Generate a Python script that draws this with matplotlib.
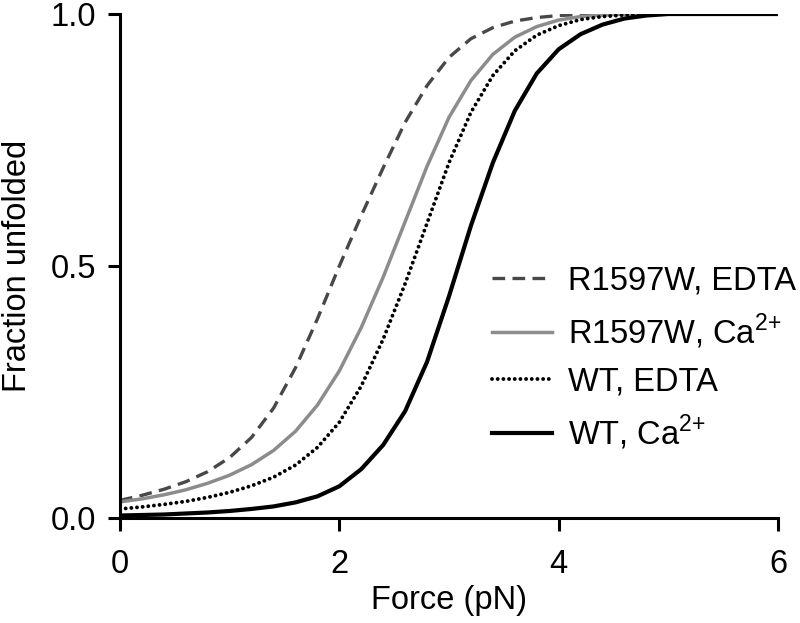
import matplotlib
matplotlib.use("Agg")
from matplotlib import pyplot as plt

plt.rcParams['font.family'] = ['Liberation Sans', 'DejaVu Sans']
plt.rcParams['mathtext.fontset'] = 'custom'
plt.rcParams['mathtext.rm'] = 'Liberation Sans'

# force grid (pN)
force = [0.0, 0.2, 0.4, 0.6, 0.8, 1.0, 1.2, 1.4, 1.6, 1.8, 2.0, 2.2, 2.4, 2.6, 2.8, 3.0,
         3.2, 3.4, 3.6, 3.8, 4.0, 4.2, 4.4, 4.6, 4.8, 5.0, 5.2, 5.4, 5.6, 5.8, 6.0]

# fraction unfolded
r1597w_edta = [0.035, 0.045, 0.057, 0.072, 0.092, 0.12, 0.16, 0.218, 0.298, 0.395, 0.50,
               0.60, 0.695, 0.785, 0.858, 0.914, 0.951, 0.973, 0.986, 0.993, 0.997, 0.999,
               1.0, 1.0, 1.0, 1.0, 1.0, 1.0, 1.0, 1.0, 1.0]
r1597w_ca = [0.032, 0.038, 0.046, 0.056, 0.069, 0.085, 0.106, 0.134, 0.172, 0.224, 0.292,
             0.378, 0.478, 0.588, 0.698, 0.795, 0.868, 0.92, 0.954, 0.975, 0.988, 0.995,
             0.998, 1.0, 1.0, 1.0, 1.0, 1.0, 1.0, 1.0, 1.0]
wt_edta = [0.018, 0.022, 0.027, 0.033, 0.041, 0.051, 0.064, 0.081, 0.105, 0.14, 0.19,
           0.262, 0.355, 0.465, 0.585, 0.705, 0.805, 0.878, 0.927, 0.958, 0.977, 0.989,
           0.995, 0.998, 1.0, 1.0, 1.0, 1.0, 1.0, 1.0, 1.0]
wt_ca = [0.005, 0.006, 0.007, 0.009, 0.011, 0.014, 0.018, 0.023, 0.031, 0.043, 0.063,
         0.097, 0.145, 0.212, 0.31, 0.44, 0.58, 0.705, 0.808, 0.882, 0.93, 0.96,
         0.979, 0.991, 0.997, 1.0, 1.0, 1.0, 1.0, 1.0, 1.0]

fig = plt.figure(figsize=(8, 6.23), dpi=100)
ax = fig.add_axes([0.15, 0.1685, 0.8225, 0.809])

ax.plot(force, r1597w_edta, color='#484848', lw=2.4, linestyle=(0, (3.8, 2.2)),
        label='R1597W, EDTA')
ax.plot(force, r1597w_ca, color='#8c8c8c', lw=2.5, label='R1597W, Ca$^{2{+}}$')
ax.plot(force, wt_edta, color='black', lw=2.8, linestyle=(0, (0.01, 1.45)),
        dash_capstyle='round', label='WT, EDTA')
ax.plot(force, wt_ca, color='black', lw=3.0, label='WT, Ca$^{2{+}}$')

ax.set_xlim(0, 6)
ax.set_ylim(0, 1)
ax.set_xticks([0, 2, 4, 6])
ax.set_yticks([0, 0.5, 1.0])
ax.set_yticklabels(['0.0', '0.5', '1.0'])

for s in ['top', 'right']:
    ax.spines[s].set_visible(False)
for s in ['left', 'bottom']:
    ax.spines[s].set_linewidth(2.2)
ax.tick_params(width=2.2, length=9, labelsize=23.5)
ax.tick_params(axis='x', pad=13)
ax.tick_params(axis='y', pad=8)

ax.set_xlabel('Force (pN)', fontsize=23.5, labelpad=4)
ax.set_ylabel('Fraction unfolded', fontsize=23.5, labelpad=13)

ax.legend(loc='center left', bbox_to_anchor=(0.615, 0.424), bbox_transform=fig.transFigure,
          frameon=False, fontsize=23.5, handlelength=1.84, handletextpad=0.49,
          labelspacing=0.47, borderpad=0, borderaxespad=0)

plt.savefig('out.png', dpi=100)
